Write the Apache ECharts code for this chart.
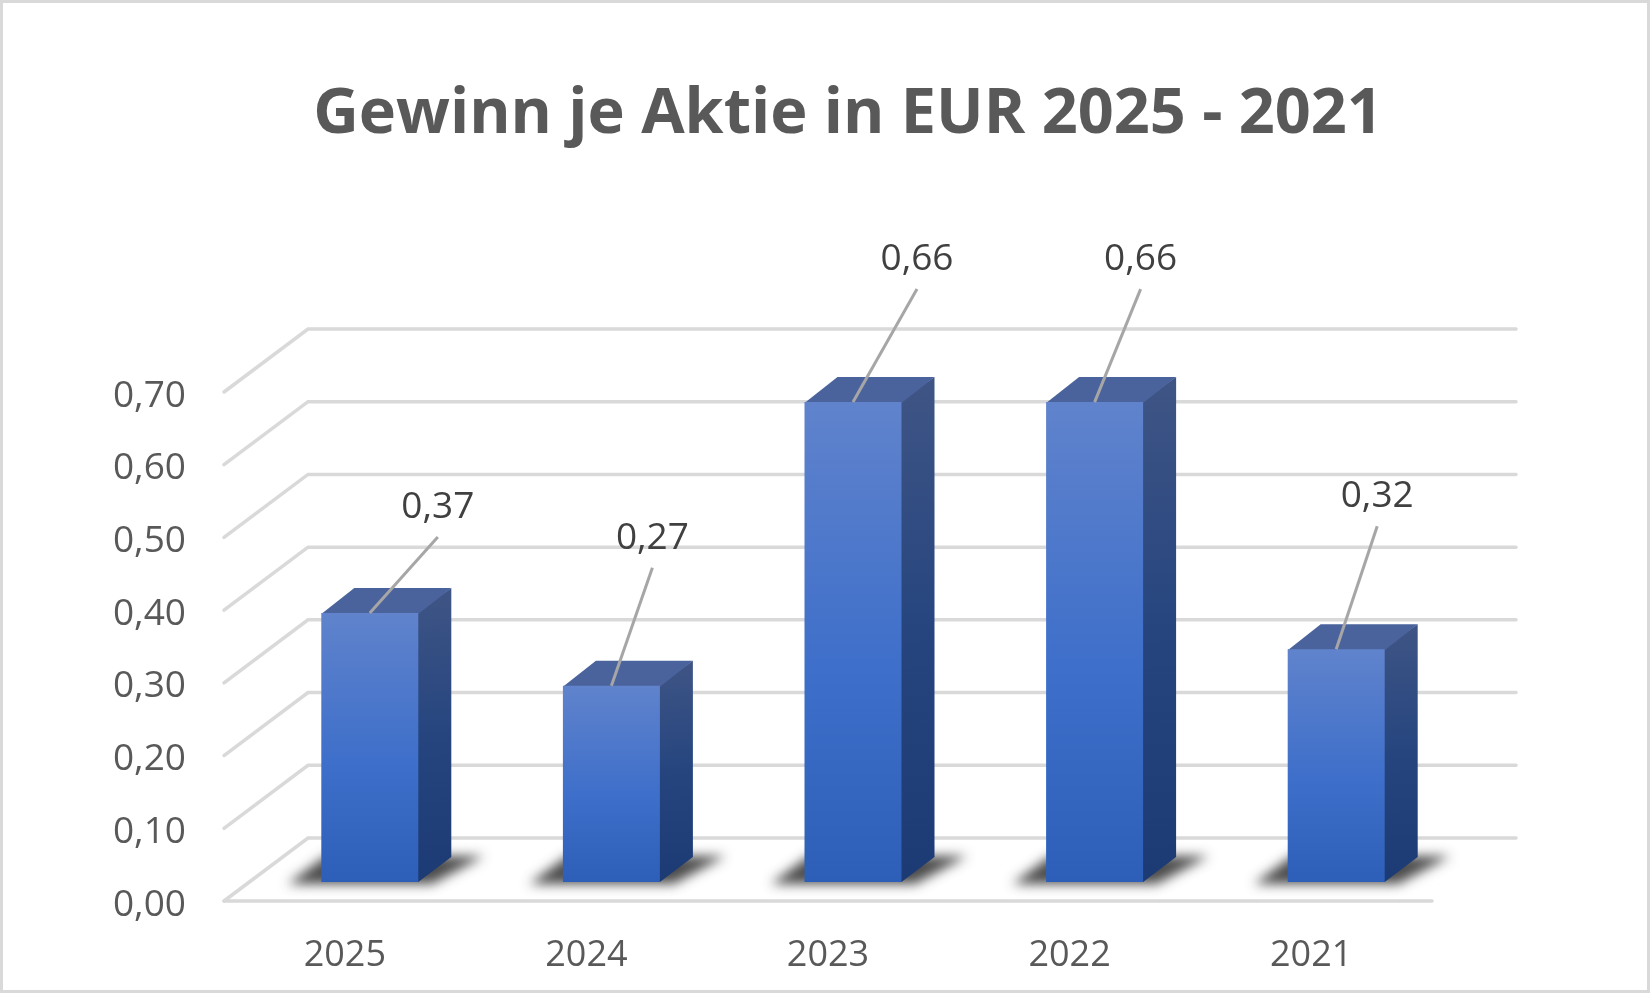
<!DOCTYPE html>
<html>
<head>
<meta charset="utf-8">
<title>Gewinn je Aktie</title>
<style>
  html, body { margin: 0; padding: 0; background: #fff; }
  #chart { width: 1650px; height: 993px; }
</style>
<script src="https://cdn.jsdelivr.net/npm/echarts@6/dist/echarts.min.js"></script>
</head>
<body>
<div id="chart"></div>
<script>
// Earnings per share, fiscal years in descending order
const years = ['2025', '2024', '2023', '2022', '2021'];
const earnings = [0.37, 0.27, 0.66, 0.66, 0.32];
const gridValues = [0, 0.1, 0.2, 0.3, 0.4, 0.5, 0.6, 0.7];

// Where each value label sits relative to the top of its bar
const leaderTips = [[68, -76], [41, -118], [64, -113], [46, -113], [41, -123]];

// Pseudo-3D projection: depth of the floor and of the bars, in pixels
const DEPTH_X = 84, DEPTH_Y = 63;
const SIDE_X = 33, SIDE_Y = 25;
const BAR_W = 97;
const FONT = '"Open Sans", sans-serif';

// Shadow shapes are drawn off canvas so that only their blur lands on the floor
const OFFSCREEN = 3000;

const plotLeft = 224, plotWidth = 1208;
const chart = echarts.init(document.getElementById('chart'), null, { renderer: 'canvas' });
const commaFixed = v => v.toFixed(2).replace('.', ',');

const frontGradient = new echarts.graphic.LinearGradient(0, 0, 0, 1, [
  { offset: 0, color: '#6083CC' },
  { offset: 0.55, color: '#3E6FCA' },
  { offset: 1, color: '#2D5FB8' }
]);
const sideGradient = new echarts.graphic.LinearGradient(0, 0, 0.35, 1, [
  { offset: 0, color: '#3F5585' },
  { offset: 0.5, color: '#26457F' },
  { offset: 1, color: '#1C3A74' }
]);

// Walls and back lines of the chart box
function renderWall(params, api) {
  const t = api.value(1);
  const band = api.size([1, 0])[0];
  const [x0, y] = api.coord([0, t]);
  const xLeft = x0 - band / 2;
  const xRight = api.coord([years.length - 1, t])[0] + band / 2;
  return {
    type: 'polyline',
    shape: { points: [[xLeft, y], [xLeft + DEPTH_X, y - DEPTH_Y], [xRight + DEPTH_X, y - DEPTH_Y]] },
    style: { stroke: '#D9D9D9', lineWidth: 3.5, fill: null, lineJoin: 'miter', lineCap: 'round' },
    silent: true
  };
}

// Soft shadow thrown on the floor by each bar
function renderShadow(params, api) {
  const [cx, y] = api.coord([api.value(0), 0]);
  const pts = [[cx - 82, y + 2], [cx - 44, y - 26], [cx + 114, y - 26], [cx + 62, y + 2]];
  return {
    type: 'polygon',
    shape: { points: pts.map(p => [p[0] - OFFSCREEN, p[1]]) },
    style: {
      fill: '#000',
      shadowBlur: 12,
      shadowOffsetX: OFFSCREEN,
      shadowColor: 'rgba(45,45,45,0.85)'
    },
    silent: true
  };
}

// Top and side faces that give each bar its depth
function renderFaces(params, api) {
  const [cx, yTop] = api.coord([api.value(0), api.value(1)]);
  const yBase = api.coord([api.value(0), 0])[1];
  const l = cx - BAR_W / 2, r = cx + BAR_W / 2;
  return {
    type: 'group',
    children: [
      {
        type: 'polygon',
        shape: { points: [[r - 2, yTop], [r + SIDE_X, yTop - SIDE_Y], [r + SIDE_X, yBase - SIDE_Y], [r, yBase], [r - 2, yBase]] },
        style: { fill: sideGradient }
      },
      {
        type: 'polygon',
        shape: { points: [[l, yTop + 1], [l + SIDE_X, yTop - SIDE_Y], [r + SIDE_X, yTop - SIDE_Y], [r, yTop + 1]] },
        style: { fill: '#4A639C' }
      }
    ],
    silent: true
  };
}

// Leader line from the top of a bar to its value label
function renderLeader(params, api) {
  const i = api.value(0);
  const [cx, yTop] = api.coord([i, api.value(1)]);
  const tip = leaderTips[i];
  return {
    type: 'line',
    shape: { x1: cx, y1: yTop, x2: cx + tip[0], y2: yTop + tip[1] },
    style: { stroke: '#A6A6A6', lineWidth: 3 },
    silent: true
  };
}

const points = earnings.map((v, i) => [i, v]);

chart.setOption({
  animation: false,
  backgroundColor: '#fff',
  title: {
    text: 'Gewinn je Aktie in EUR 2025 - 2021',
    left: 843,
    top: 79,
    textAlign: 'center',
    textStyle: { fontFamily: FONT, fontSize: 63, fontWeight: 'bold', color: '#595959' }
  },
  graphic: [{
    type: 'rect',
    silent: true,
    z: -1,
    shape: { x: 1.5, y: 1.5, width: 1647, height: 990 },
    style: { fill: null, stroke: '#D9D9D9', lineWidth: 3 }
  }],
  grid: [
    // front edge of the floor: carries the axis labels
    { left: plotLeft, top: 392, width: plotWidth, height: 509 },
    // plane of the bars' front faces, one step into the depth of the floor
    { left: plotLeft + 25, top: 373, width: plotWidth, height: 509 }
  ],
  xAxis: [
    {
      type: 'category', gridIndex: 0, data: years,
      axisTick: { show: false },
      axisLine: { lineStyle: { color: '#D9D9D9', width: 3.5, cap: 'round' } },
      axisLabel: { fontFamily: FONT, fontSize: 36, color: '#595959', margin: 37 }
    },
    { type: 'category', gridIndex: 1, data: years, show: false }
  ],
  yAxis: [
    {
      type: 'value', gridIndex: 0, min: 0, max: 0.7, interval: 0.1,
      axisLine: { show: false },
      axisTick: { show: false },
      splitLine: { show: false },
      axisLabel: {
        margin: 38,
        // the rich padding drops the numerals slightly below their tick height
        formatter: v => '{tick|' + commaFixed(v) + '}',
        rich: {
          tick: { fontFamily: FONT, fontSize: 37, color: '#595959', padding: [8, 0, 0, 0] }
        }
      }
    },
    { type: 'value', gridIndex: 1, min: 0, max: 0.7, interval: 0.1, show: false, splitLine: { show: false } }
  ],
  series: [
    {
      type: 'custom', xAxisIndex: 0, yAxisIndex: 0, z: 1,
      renderItem: renderWall,
      data: gridValues.map(t => [0, t]),
      encode: { x: 0, y: 1 }
    },
    {
      type: 'custom', xAxisIndex: 1, yAxisIndex: 1, z: 2,
      renderItem: renderShadow,
      data: points, encode: { x: 0, y: 1 }
    },
    {
      type: 'custom', xAxisIndex: 1, yAxisIndex: 1, z: 3,
      renderItem: renderFaces,
      data: points, encode: { x: 0, y: 1 }
    },
    {
      type: 'bar', xAxisIndex: 1, yAxisIndex: 1, z: 4,
      barWidth: BAR_W,
      data: earnings,
      itemStyle: { color: frontGradient },
      label: {
        show: true, position: 'top', distance: 0,
        fontFamily: FONT, fontSize: 37, lineHeight: 37, color: '#404040',
        formatter: p => commaFixed(p.value)
      },
      labelLayout: p => ({
        dx: leaderTips[p.dataIndex][0],
        dy: leaderTips[p.dataIndex][1] - 11
      }),
      silent: true
    },
    {
      type: 'custom', xAxisIndex: 1, yAxisIndex: 1, z: 5,
      renderItem: renderLeader,
      data: points, encode: { x: 0, y: 1 }
    }
  ]
});
</script>
</body>
</html>
